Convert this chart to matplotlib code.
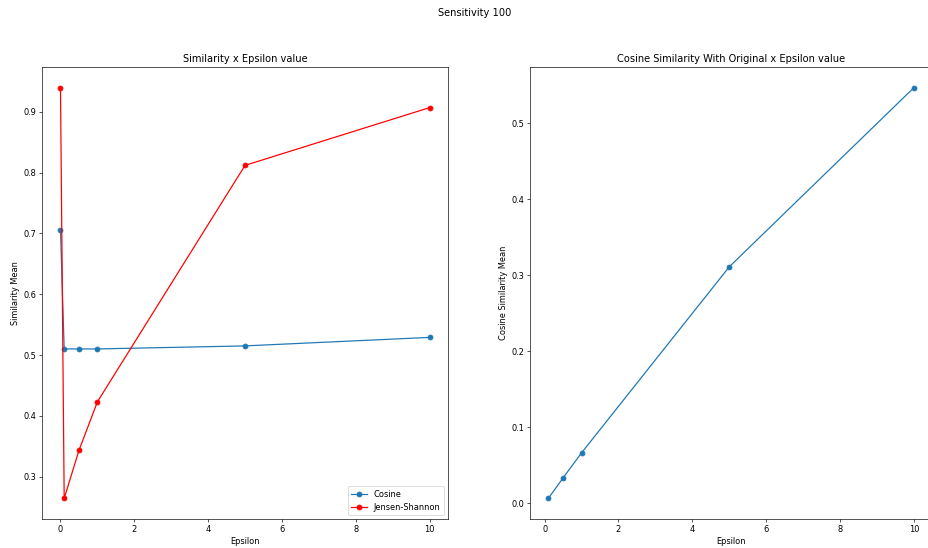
import matplotlib.pyplot as plt

epsilon = [0.0, 0.1, 0.5, 1, 5, 10]
cosine = [0.706, 0.510, 0.510, 0.510, 0.515, 0.529]
jensen_shannon = [0.940, 0.264, 0.343, 0.423, 0.812, 0.907]

epsilon_orig = [0.1, 0.5, 1, 5, 10]
cosine_orig = [0.006, 0.033, 0.066, 0.311, 0.547]

# rendered at a low dpi so that default sizes scale down like the original
DPI = 59
fig = plt.figure(figsize=(928 / DPI, 548 / DPI), dpi=DPI)
ax1 = fig.add_axes([0.0453, 0.0529, 0.4375, 0.8248])
ax2 = fig.add_axes([0.5711, 0.0529, 0.4335, 0.8248])

ax1.plot(epsilon, cosine, marker="o", label="Cosine")
ax1.plot(epsilon, jensen_shannon, marker="o", color="red", label="Jensen-Shannon")
ax1.set_title("Similarity x Epsilon value")
ax1.set_xlabel("Epsilon")
ax1.set_ylabel("Similarity Mean")
ax1.legend(loc="lower right")

ax2.plot(epsilon_orig, cosine_orig, marker="o")
ax2.set_title("Cosine Similarity With Original x Epsilon value")
ax2.set_xlabel("Epsilon")
ax2.set_ylabel("Cosine Similarity Mean")

fig.suptitle("Sensitivity 100", x=0.511, y=0.985)
fig.savefig("out.png", dpi=DPI)
